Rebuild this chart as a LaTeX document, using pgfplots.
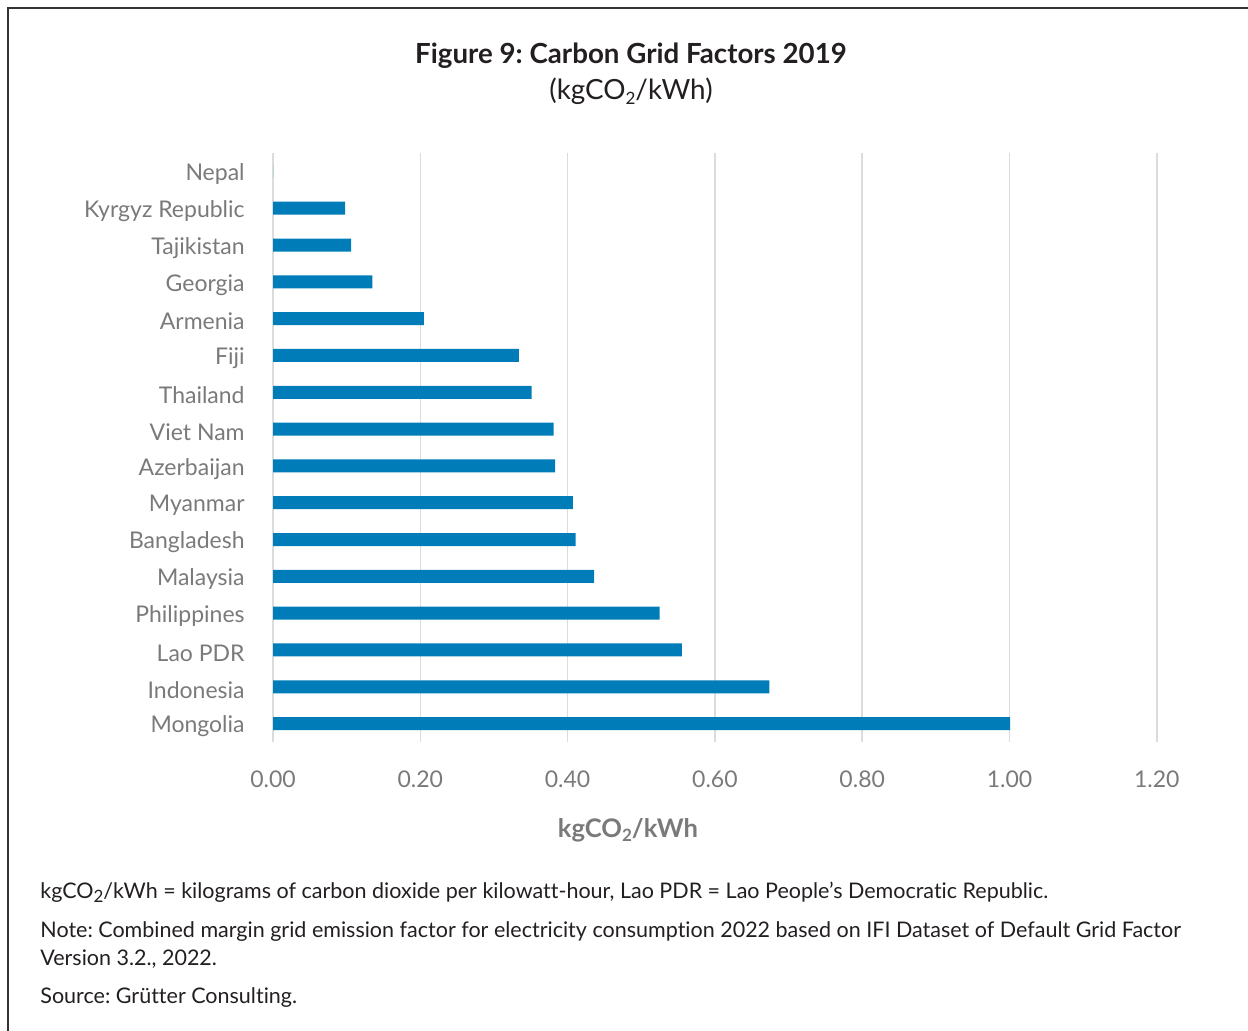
\documentclass[border=0pt]{standalone}
\usepackage{pgfplots}
\pgfplotsset{compat=1.18}
\usepackage{fontspec}
\setmainfont{Lato}[Ligatures={NoCommon}]
\frenchspacing

\definecolor{barblue}{HTML}{007DB8}
\definecolor{lblgray}{HTML}{7A7A7A}
\definecolor{gridgray}{HTML}{DCDCDC}
\definecolor{framegray}{HTML}{333333}
\definecolor{titleblack}{HTML}{231F20}

\newcommand{\unit}{kgCO\raisebox{-0.35ex}{\fontsize{8.5}{8.5}\selectfont 2}/kWh}

\begin{document}
\begin{tikzpicture}[x=0.5pt,y=0.5pt]
  % page area and frame
  \path[use as bounding box] (0,0) rectangle (1248,1031);
  \draw[framegray, line width=1pt] (8,0) -- (8,1023) -- (1248,1023);

  % titles
  \node[text=titleblack, font=\bfseries\fontsize{13.85}{16}\selectfont] at (631,975) {Figure 9: Carbon Grid Factors 2019};
  \node[text=titleblack, font=\fontsize{13.9}{16}\selectfont] at (631,940) {(\unit)};

  \begin{axis}[
      at={(136.5pt,144.5pt)}, anchor=south west,
      width=441.9pt, height=294.5pt, scale only axis,
      xbar, bar width=6.5pt,
      xmin=0, xmax=1.2,
      ymin=-0.5, ymax=15.5, y dir=reverse,
      xtick={0,0.2,0.4,0.6,0.8,1.0,1.2},
      ytick={0,...,15},
      yticklabels={Nepal, Kyrgyz Republic, Tajikistan, Georgia, Armenia, Fiji,
        Thailand, Viet Nam, Azerbaijan, Myanmar, Bangladesh, Malaysia,
        Philippines, Lao PDR, Indonesia, Mongolia},
      axis line style={draw=none},
      major tick length=0pt,
      xmajorgrids, major grid style={gridgray, line width=0.75pt},
      xticklabel style={text=lblgray, font=\fontsize{11.5}{13}\selectfont, yshift=-11pt},
      yticklabel style={text=lblgray, font=\fontsize{11.5}{13}\selectfont, anchor=east, inner sep=0pt, xshift=-14pt, yshift=-1.5pt},
      /pgf/number format/.cd, fixed, fixed zerofill, precision=2, assume math mode=true,
    ]
    \addplot[fill=barblue, draw=none] coordinates {
      (0.000,0) (0.098,1) (0.106,2) (0.135,3) (0.205,4) (0.334,5)
      (0.351,6) (0.381,7) (0.383,8) (0.407,9) (0.411,10) (0.436,11)
      (0.525,12) (0.555,13) (0.674,14) (1.001,15)
    };
  \end{axis}

  % axis title
  \node[text=lblgray, font=\bfseries\fontsize{12.8}{14}\selectfont] at (628,201) {\unit};

  % notes
  \begin{scope}[every node/.style={anchor=base west, inner sep=0pt, text=titleblack, font=\fontsize{10.75}{13}\selectfont}]
    \node at (40,132) {\unit{} = kilograms of carbon dioxide per kilowatt-hour, Lao PDR = Lao People’s Democratic Republic.};
    \node at (40,93) {Note: Combined margin grid emission factor for electricity consumption 2022 based on IFI Dataset of Default Grid Factor};
    \node at (40,65) {Version 3.2., 2022.};
    \node at (40,27) {Source: Grütter Consulting.};
  \end{scope}
\end{tikzpicture}
\end{document}
